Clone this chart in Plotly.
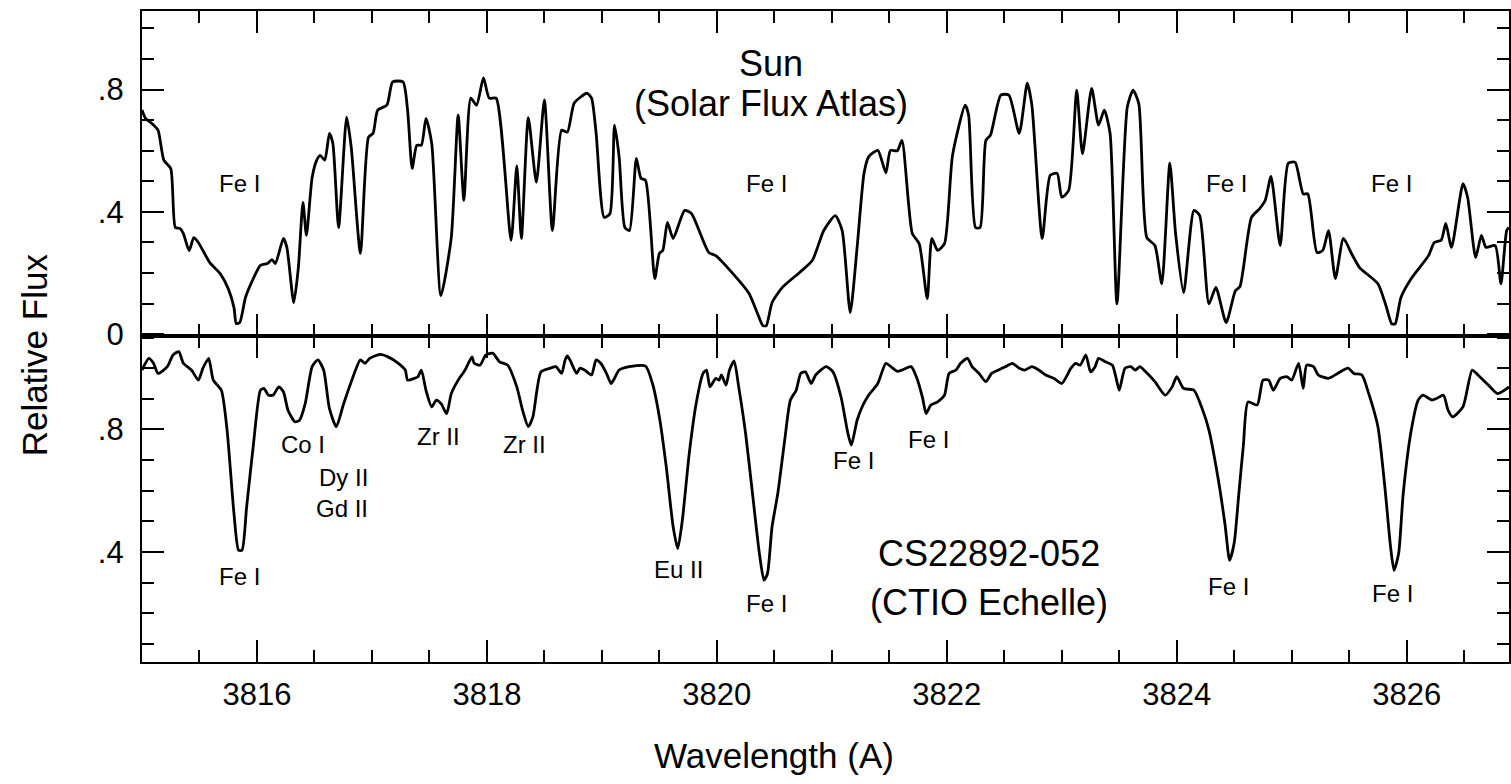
import plotly.graph_objects as go

# ---------------- data ----------------
sun_wl = [3815.00, 3815.03, 3815.07, 3815.10, 3815.14, 3815.19, 3815.25, 3815.29, 3815.33, 3815.36,
          3815.41, 3815.45, 3815.49, 3815.59, 3815.68, 3815.75, 3815.80, 3815.82, 3815.85, 3815.90,
          3815.96, 3816.03, 3816.09, 3816.13, 3816.16, 3816.23, 3816.26, 3816.32, 3816.36, 3816.40,
          3816.43, 3816.48, 3816.52, 3816.55, 3816.59, 3816.63, 3816.66, 3816.71, 3816.78, 3816.82,
          3816.90, 3816.97, 3817.01, 3817.05, 3817.13, 3817.18, 3817.27, 3817.31, 3817.35, 3817.39,
          3817.43, 3817.47, 3817.52, 3817.60, 3817.69, 3817.75, 3817.80, 3817.86, 3817.91, 3817.97,
          3818.02, 3818.08, 3818.21, 3818.26, 3818.30, 3818.36, 3818.43, 3818.50, 3818.57, 3818.65,
          3818.70, 3818.76, 3818.87, 3818.91, 3818.95, 3819.02, 3819.07, 3819.11, 3819.15, 3819.20,
          3819.24, 3819.30, 3819.34, 3819.38, 3819.46, 3819.50, 3819.53, 3819.57, 3819.62, 3819.72,
          3819.78, 3819.93, 3819.99, 3820.14, 3820.28, 3820.35, 3820.40, 3820.43, 3820.48, 3820.57,
          3820.72, 3820.83, 3820.93, 3821.03, 3821.09, 3821.16, 3821.22, 3821.28, 3821.32, 3821.40,
          3821.47, 3821.51, 3821.57, 3821.61, 3821.70, 3821.76, 3821.83, 3821.87, 3821.92, 3821.98,
          3822.05, 3822.16, 3822.19, 3822.25, 3822.29, 3822.34, 3822.38, 3822.47, 3822.54, 3822.63,
          3822.70, 3822.74, 3822.83, 3822.90, 3822.96, 3823.00, 3823.06, 3823.13, 3823.18, 3823.26,
          3823.32, 3823.37, 3823.42, 3823.48, 3823.57, 3823.62, 3823.67, 3823.74, 3823.81, 3823.87,
          3823.94, 3823.99, 3824.06, 3824.15, 3824.20, 3824.28, 3824.34, 3824.43, 3824.51, 3824.55,
          3824.65, 3824.72, 3824.77, 3824.82, 3824.90, 3824.97, 3825.03, 3825.10, 3825.14, 3825.22,
          3825.27, 3825.32, 3825.38, 3825.45, 3825.52, 3825.59, 3825.75, 3825.82, 3825.87, 3825.90,
          3825.95, 3826.04, 3826.19, 3826.24, 3826.30, 3826.34, 3826.39, 3826.49, 3826.53, 3826.60,
          3826.65, 3826.69, 3826.77, 3826.82, 3826.87, 3826.89]
sun_flux = [0.733, 0.706, 0.694, 0.684, 0.667, 0.569, 0.542, 0.349, 0.346, 0.329,
            0.273, 0.316, 0.300, 0.234, 0.198, 0.149, 0.087, 0.035, 0.038, 0.120,
            0.175, 0.225, 0.231, 0.244, 0.231, 0.313, 0.284, 0.103, 0.218, 0.431,
            0.323, 0.513, 0.569, 0.585, 0.569, 0.657, 0.624, 0.349, 0.710, 0.611,
            0.264, 0.644, 0.657, 0.733, 0.749, 0.825, 0.825, 0.733, 0.542, 0.618,
            0.618, 0.706, 0.624, 0.126, 0.316, 0.716, 0.438, 0.772, 0.749, 0.838,
            0.772, 0.772, 0.307, 0.550, 0.313, 0.708, 0.497, 0.766, 0.339, 0.667,
            0.661, 0.756, 0.788, 0.772, 0.657, 0.382, 0.394, 0.684, 0.580, 0.349,
            0.339, 0.575, 0.510, 0.503, 0.182, 0.264, 0.274, 0.366, 0.313, 0.405,
            0.394, 0.267, 0.257, 0.198, 0.133, 0.071, 0.028, 0.028, 0.103, 0.153,
            0.202, 0.241, 0.339, 0.388, 0.339, 0.071, 0.284, 0.526, 0.580, 0.601,
            0.528, 0.601, 0.600, 0.634, 0.329, 0.296, 0.116, 0.313, 0.274, 0.296,
            0.585, 0.749, 0.716, 0.349, 0.349, 0.634, 0.651, 0.782, 0.782, 0.657,
            0.821, 0.749, 0.313, 0.520, 0.526, 0.448, 0.470, 0.798, 0.590, 0.804,
            0.684, 0.733, 0.657, 0.099, 0.743, 0.798, 0.754, 0.316, 0.290, 0.165,
            0.559, 0.329, 0.136, 0.405, 0.388, 0.099, 0.153, 0.038, 0.142, 0.156,
            0.382, 0.410, 0.438, 0.516, 0.290, 0.559, 0.562, 0.459, 0.459, 0.267,
            0.274, 0.339, 0.182, 0.313, 0.264, 0.218, 0.165, 0.093, 0.034, 0.034,
            0.120, 0.182, 0.257, 0.300, 0.307, 0.362, 0.284, 0.492, 0.448, 0.251,
            0.323, 0.284, 0.290, 0.165, 0.339, 0.349]

star_wl = [3815.00, 3815.06, 3815.10, 3815.14, 3815.22, 3815.27, 3815.32, 3815.36, 3815.43, 3815.49,
           3815.53, 3815.58, 3815.62, 3815.69, 3815.74, 3815.80, 3815.84, 3815.87, 3815.91, 3815.97,
           3816.03, 3816.06, 3816.10, 3816.14, 3816.19, 3816.23, 3816.27, 3816.33, 3816.37, 3816.42,
           3816.48, 3816.53, 3816.58, 3816.63, 3816.69, 3816.75, 3816.81, 3816.90, 3816.94, 3816.98,
           3817.07, 3817.14, 3817.23, 3817.29, 3817.31, 3817.37, 3817.40, 3817.43, 3817.47, 3817.52,
           3817.56, 3817.60, 3817.65, 3817.69, 3817.75, 3817.81, 3817.87, 3817.89, 3817.94, 3817.99,
           3818.05, 3818.11, 3818.18, 3818.26, 3818.31, 3818.36, 3818.40, 3818.47, 3818.55, 3818.60,
           3818.65, 3818.68, 3818.70, 3818.73, 3818.78, 3818.81, 3818.85, 3818.91, 3818.95, 3818.99,
           3819.04, 3819.08, 3819.11, 3819.15, 3819.24, 3819.38, 3819.44, 3819.50, 3819.56, 3819.62,
           3819.66, 3819.70, 3819.76, 3819.82, 3819.88, 3819.91, 3819.94, 3819.99, 3820.02, 3820.04,
           3820.08, 3820.11, 3820.15, 3820.19, 3820.25, 3820.31, 3820.37, 3820.41, 3820.44, 3820.48,
           3820.53, 3820.59, 3820.64, 3820.69, 3820.73, 3820.77, 3820.82, 3820.86, 3820.95, 3821.01,
           3821.08, 3821.14, 3821.17, 3821.22, 3821.27, 3821.32, 3821.40, 3821.47, 3821.53, 3821.57,
           3821.61, 3821.69, 3821.74, 3821.79, 3821.82, 3821.86, 3821.92, 3821.98, 3822.02, 3822.08,
           3822.12, 3822.18, 3822.22, 3822.28, 3822.34, 3822.39, 3822.45, 3822.51, 3822.57, 3822.63,
           3822.68, 3822.74, 3822.80, 3822.86, 3822.93, 3823.00, 3823.08, 3823.12, 3823.16, 3823.21,
           3823.25, 3823.29, 3823.32, 3823.38, 3823.44, 3823.47, 3823.50, 3823.55, 3823.60, 3823.64,
           3823.68, 3823.73, 3823.81, 3823.90, 3823.96, 3824.00, 3824.06, 3824.15, 3824.22, 3824.28,
           3824.36, 3824.42, 3824.46, 3824.50, 3824.54, 3824.58, 3824.62, 3824.70, 3824.75, 3824.80,
           3824.84, 3824.90, 3824.96, 3825.00, 3825.06, 3825.10, 3825.13, 3825.19, 3825.23, 3825.32,
           3825.40, 3825.49, 3825.54, 3825.61, 3825.67, 3825.75, 3825.81, 3825.86, 3825.89, 3825.93,
           3825.97, 3826.04, 3826.10, 3826.14, 3826.22, 3826.26, 3826.32, 3826.36, 3826.40, 3826.49,
           3826.57, 3826.62, 3826.71, 3826.79, 3826.85, 3826.89]
star_flux = [0.994, 1.032, 1.016, 0.983, 1.005, 1.043, 1.054, 1.016, 0.994, 0.961,
             1.000, 1.032, 0.961, 0.928, 0.798, 0.525, 0.406, 0.406, 0.547, 0.754,
             0.928, 0.934, 0.912, 0.912, 0.939, 0.923, 0.863, 0.825, 0.830, 0.885,
             1.005, 1.027, 0.994, 0.869, 0.809, 0.879, 0.945, 1.027, 1.016, 1.032,
             1.045, 1.037, 1.016, 0.994, 0.961, 0.967, 0.972, 0.994, 0.928, 0.874,
             0.896, 0.885, 0.852, 0.917, 0.961, 0.994, 1.037, 1.016, 1.010, 1.043,
             1.049, 1.021, 1.010, 0.939, 0.863, 0.809, 0.841, 0.988, 1.000, 1.005,
             0.983, 1.027, 1.040, 1.021, 0.983, 1.000, 0.994, 0.978, 1.027, 1.016,
             0.983, 0.950, 0.967, 0.994, 1.005, 1.007, 0.950, 0.841, 0.678, 0.482,
             0.411, 0.504, 0.722, 0.885, 0.983, 0.994, 0.939, 0.967, 0.961, 0.978,
             0.945, 0.994, 1.024, 0.939, 0.787, 0.591, 0.395, 0.308, 0.329, 0.482,
             0.591, 0.765, 0.896, 0.928, 0.983, 0.988, 0.950, 0.978, 1.005, 0.988,
             0.906, 0.787, 0.749, 0.830, 0.879, 0.912, 0.950, 1.016, 1.000, 0.990,
             0.994, 1.005, 0.967, 0.902, 0.852, 0.879, 0.890, 0.912, 0.983, 0.994,
             1.016, 1.032, 1.005, 0.983, 0.956, 0.983, 0.994, 1.005, 1.016, 1.000,
             0.994, 1.005, 0.994, 0.978, 0.967, 0.950, 1.000, 1.016, 1.010, 1.043,
             0.988, 1.005, 1.032, 1.021, 1.010, 0.972, 0.928, 1.000, 1.005, 0.994,
             1.005, 0.988, 0.956, 0.912, 0.939, 0.972, 0.934, 0.928, 0.869, 0.798,
             0.640, 0.490, 0.373, 0.430, 0.590, 0.750, 0.890, 0.880, 0.961, 0.961,
             0.928, 0.967, 0.972, 0.961, 1.016, 0.934, 1.010, 1.005, 0.978, 0.967,
             0.983, 1.000, 0.983, 0.978, 0.917, 0.809, 0.613, 0.416, 0.340, 0.395,
             0.591, 0.798, 0.896, 0.912, 0.896, 0.901, 0.912, 0.863, 0.841, 0.874,
             0.994, 0.978, 0.945, 0.917, 0.928, 0.939]

# line identifications: (label, wavelength, flux position)
sun_labels = ["Fe I", "Fe I", "Fe I", "Fe I"]
sun_label_wl = [3815.85, 3820.43, 3824.43, 3825.87]
sun_label_y = [0.493, 0.493, 0.493, 0.493]

star_labels = ["Fe I", "Co I", "Dy II", "Gd II", "Zr II", "Zr II", "Eu II", "Fe I", "Fe I", "Fe I", "Fe I", "Fe I"]
star_label_wl = [3815.85, 3816.40, 3816.75, 3816.74, 3817.58, 3818.33, 3819.67, 3820.43, 3821.19, 3821.84, 3824.45, 3825.88]
star_label_y = [0.321, 0.752, 0.644, 0.543, 0.778, 0.752, 0.344, 0.232, 0.700, 0.768, 0.288, 0.265]

x_range = [3815.0, 3826.89]
sun_y_range = [-0.005, 1.057]
star_y_range = [0.041, 1.106]

# ---------------- figure ----------------
FONT = "Liberation Sans, Arial, Helvetica, sans-serif"
split = 0.5012

fig = go.Figure()
line_style = dict(color="black", width=2.8, shape="spline", smoothing=0.6)
fig.add_trace(go.Scatter(x=sun_wl, y=sun_flux, xaxis="x2", yaxis="y2", mode="lines",
                         line=line_style, showlegend=False, hoverinfo="skip"))
fig.add_trace(go.Scatter(x=star_wl, y=star_flux, xaxis="x", yaxis="y", mode="lines",
                         line=line_style, showlegend=False, hoverinfo="skip"))

tick_common = dict(showline=True, linecolor="black", linewidth=2.2, mirror="ticks",
                   ticks="inside", tickcolor="black", tickwidth=2, ticklen=22,
                   showgrid=False, zeroline=False)
minor_common = dict(ticks="inside", ticklen=12, tickwidth=2, tickcolor="black", showgrid=False)

xaxis_common = dict(range=x_range, tickmode="linear", tick0=3816, dtick=2,
                    minor=dict(minor_common, tickmode="linear", tick0=3815, dtick=0.5),
                    **tick_common)

fig.update_layout(
    width=1511, height=784,
    margin=dict(l=142, r=0, t=11, b=122),
    paper_bgcolor="white", plot_bgcolor="white",
    font=dict(family=FONT, color="black"),
    xaxis=dict(xaxis_common, anchor="y", domain=[0, 1],
               tickfont=dict(family=FONT, size=31, color="black"), ticklabelstandoff=4),
    xaxis2=dict(xaxis_common, anchor="y2", matches="x", showticklabels=False, domain=[0, 1]),
    yaxis=dict(domain=[0, split], range=star_y_range, anchor="x",
               tickmode="array", tickvals=[0.4, 0.8], ticktext=[".4", ".8"],
               minor=dict(minor_common, tickmode="linear", tick0=0, dtick=0.1),
               tickfont=dict(family=FONT, size=31, color="black"), ticklabelstandoff=10,
               **tick_common),
    yaxis2=dict(domain=[split, 1], range=sun_y_range, anchor="x2",
                tickmode="array", tickvals=[0, 0.4, 0.8], ticktext=["0", ".4", ".8"],
                minor=dict(minor_common, tickmode="linear", tick0=0, dtick=0.1),
                tickfont=dict(family=FONT, size=31, color="black"), ticklabelstandoff=10,
                **tick_common),
)

annotations = []
for t, wx, wy in zip(sun_labels, sun_label_wl, sun_label_y):
    annotations.append(dict(text=t, x=wx, y=wy, xref="x2", yref="y2", showarrow=False,
                            xanchor="center", yanchor="middle",
                            font=dict(family=FONT, size=24, color="black")))
for t, wx, wy in zip(star_labels, star_label_wl, star_label_y):
    annotations.append(dict(text=t, x=wx, y=wy, xref="x", yref="y", showarrow=False,
                            xanchor="center", yanchor="middle",
                            font=dict(family=FONT, size=24, color="black")))

big = dict(family=FONT, size=36, color="black")
annotations += [
    dict(text="Sun", x=3820.47, y=0.884, xref="x2", yref="y2", showarrow=False,
         xanchor="center", yanchor="middle", font=big),
    dict(text="(Solar Flux Atlas)", x=3820.47, y=0.756, xref="x2", yref="y2", showarrow=False,
         xanchor="center", yanchor="middle", font=big),
    dict(text="CS22892-052", x=3822.37, y=0.396, xref="x", yref="y", showarrow=False,
         xanchor="center", yanchor="middle", font=big),
    dict(text="(CTIO Echelle)", x=3822.37, y=0.236, xref="x", yref="y", showarrow=False,
         xanchor="center", yanchor="middle", font=big),
    dict(text="Relative Flux", x=-0.078, y=0.4716, xref="paper", yref="paper", showarrow=False,
         xanchor="center", yanchor="middle", textangle=-90,
         font=dict(family=FONT, size=35, color="black")),
    dict(text="Wavelength (A)", x=0.4624, y=-0.1429, xref="paper", yref="paper", showarrow=False,
         xanchor="center", yanchor="middle",
         font=dict(family=FONT, size=35, color="black")),
]
fig.update_layout(annotations=annotations)

fig.write_html("out.html")
